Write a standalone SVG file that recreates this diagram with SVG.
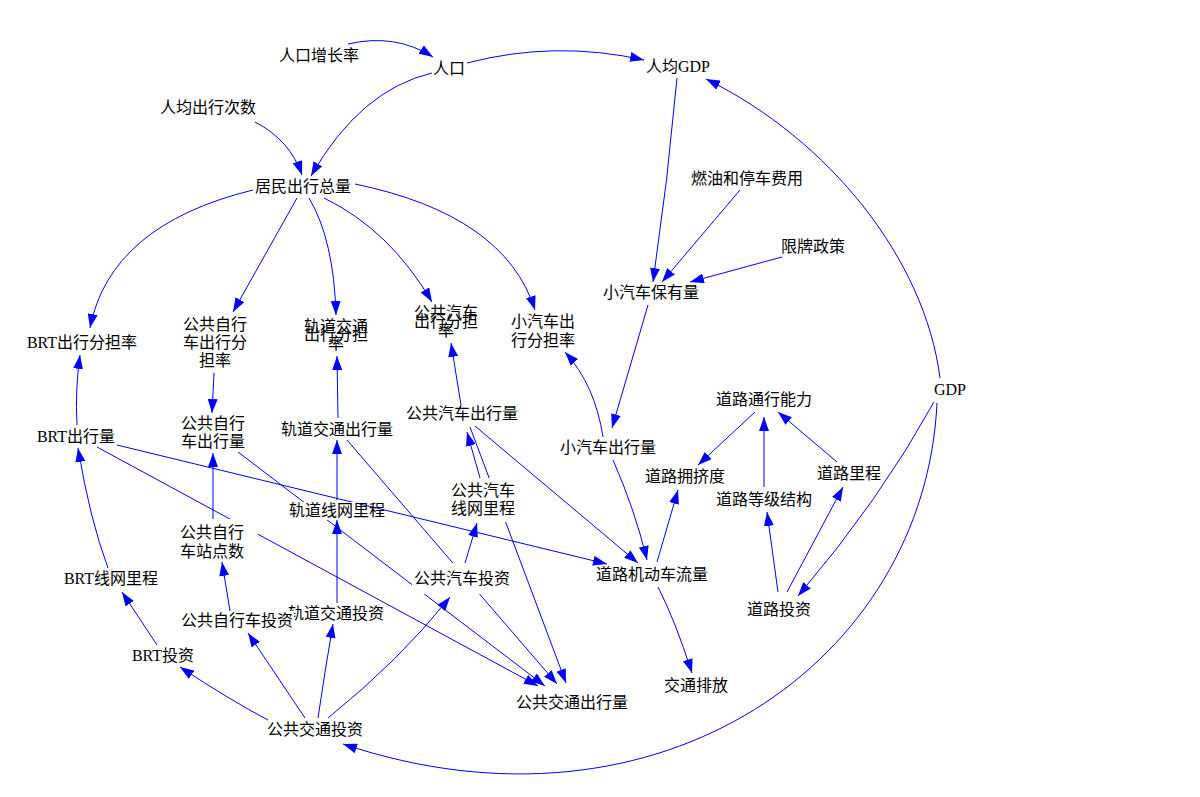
<svg xmlns="http://www.w3.org/2000/svg" width="1200" height="797" viewBox="0 0 1200 797">
<style>
text{font-family:"Liberation Serif","Noto Sans CJK SC",serif;font-size:16px;fill:#000;text-anchor:middle}
.c{fill:none;stroke:#0000ff;stroke-width:1;marker-end:url(#a)}
.bg{fill:#fff}
</style>
<defs>
<marker id="a" markerUnits="userSpaceOnUse" markerWidth="14" markerHeight="10" refX="14" refY="5" orient="auto"><path d="M0,0 L14,5 L0,10 z" fill="#0000ff"/></marker>
</defs>
<rect width="1200" height="797" fill="#fff"/>
<g id="connectors">
<path class="c" d="M348,44 Q395,33 433,57"/>
<path class="c" d="M467,63 Q555,40 644,60"/>
<path class="c" d="M432,73 Q360,90 311,176"/>
<path class="c" d="M255,122 Q290,140 302,175"/>
<path class="c" d="M677,78 Q668,180 653,282"/>
<path class="c" d="M740,190 L662,282"/>
<path class="c" d="M782,257 L690,282"/>
<path class="c" d="M940,378 C925,260 830,140 706,79"/>
<path class="c" d="M934,402 Q880,500 798,596"/>
<path class="c" d="M937,403 C925,660 660,850 343,744"/>
<path class="c" d="M253,190 Q110,225 90,328"/>
<path class="c" d="M297,198 L233,312"/>
<path class="c" d="M309,198 Q334,240 336,315"/>
<path class="c" d="M324,198 Q390,230 432,302"/>
<path class="c" d="M355,184 Q505,215 535,310"/>
<path class="c" d="M77,425 Q75,390 80,355"/>
<path class="c" d="M214,373 L212,413"/>
<path class="c" d="M338,418 L337,356"/>
<path class="c" d="M461,405 L451,343"/>
<path class="c" d="M603,437 Q595,385 565,352"/>
<path class="c" d="M648,305 L612,428"/>
<path class="c" d="M613,460 Q635,510 647,560"/>
<path class="c" d="M475,426 L638,563"/>
<path class="c" d="M117,445 L607,564"/>
<path class="c" d="M97,447 L538,686"/>
<path class="c" d="M238,452 L545,686"/>
<path class="c" d="M347,440 L557,684"/>
<path class="c" d="M470,427 L566,683"/>
<path class="c" d="M480,478 L467,432"/>
<path class="c" d="M465,563 L477,523"/>
<path class="c" d="M328,718 Q400,660 450,597"/>
<path class="c" d="M337,603 L337,520"/>
<path class="c" d="M337,500 L337,440"/>
<path class="c" d="M213,522 L213,453"/>
<path class="c" d="M230,611 L222,562"/>
<path class="c" d="M108,568 Q90,520 78,448"/>
<path class="c" d="M157,645 L122,592"/>
<path class="c" d="M268,720 Q230,700 180,667"/>
<path class="c" d="M305,718 L248,633"/>
<path class="c" d="M318,718 Q325,670 333,624"/>
<path class="c" d="M755,412 L698,465"/>
<path class="c" d="M764,487 L764,417"/>
<path class="c" d="M837,462 L778,412"/>
<path class="c" d="M778,592 L767,512"/>
<path class="c" d="M787,592 L843,487"/>
<path class="c" d="M657,562 L678,490"/>
<path class="c" d="M658,587 Q675,620 692,673"/>
</g>
<g id="n_pop_rate"><text x="319" y="61">人口增长率</text></g>
<g id="n_pop"><text x="449" y="74">人口</text></g>
<g id="n_gdp_pc"><text x="678" y="72">人均GDP</text></g>
<g id="n_trips_pc"><text x="208" y="113">人均出行次数</text></g>
<g id="n_total_trips"><text x="303" y="192">居民出行总量</text></g>
<g id="n_fuel"><text x="747" y="184">燃油和停车费用</text></g>
<g id="n_plate"><text x="813" y="252">限牌政策</text></g>
<g id="n_car_own"><text x="651" y="298">小汽车保有量</text></g>
<g id="n_brt_share"><text x="82" y="348">BRT出行分担率</text></g>
<g id="n_bike_share"><text x="215" y="330">公共自行</text><text x="215" y="348">车出行分</text><text x="215" y="366">担率</text></g>
<g id="n_rail_share"><text x="336" y="332">轨道交通</text><text x="336" y="340">出行分担</text><text x="336" y="349">率</text></g>
<g id="n_bus_share"><text x="446" y="318">公共汽车</text><text x="446" y="327">出行分担</text><text x="446" y="336">率</text></g>
<g id="n_car_share"><text x="543" y="327">小汽车出</text><text x="543" y="346">行分担率</text></g>
<g id="n_bike_trips"><text x="213" y="429">公共自行</text><text x="213" y="447">车出行量</text></g>
<g id="n_rail_trips"><text x="337" y="435">轨道交通出行量</text></g>
<g id="n_bus_trips"><text x="462" y="419">公共汽车出行量</text></g>
<g id="n_car_trips"><text x="608" y="453">小汽车出行量</text></g>
<g id="n_brt_trips"><text x="76" y="442">BRT出行量</text></g>
<g id="n_road_cap"><text x="764" y="405">道路通行能力</text></g>
<g id="n_congestion"><text x="685" y="482">道路拥挤度</text></g>
<g id="n_road_len"><text x="849" y="479">道路里程</text></g>
<g id="n_road_grade"><text x="764" y="505">道路等级结构</text></g>
<g id="n_gdp"><text x="950" y="395">GDP</text></g>
<g id="n_bus_net"><rect class="bg" x="450" y="478" width="68" height="44"/><text x="483" y="496">公共汽车</text><text x="483" y="514">线网里程</text></g>
<g id="n_rail_net"><rect class="bg" x="286" y="502" width="70" height="18"/><text x="337" y="516">轨道线网里程</text></g>
<g id="n_bike_stations"><rect class="bg" x="178" y="519" width="80" height="42"/><text x="212" y="538">公共自行</text><text x="212" y="557">车站点数</text></g>
<g id="n_vehicle_flow"><text x="652" y="580">道路机动车流量</text></g>
<g id="n_bus_inv"><rect class="bg" x="412" y="563" width="100" height="31"/><text x="462" y="584">公共汽车投资</text></g>
<g id="n_brt_net"><text x="111" y="584">BRT线网里程</text></g>
<g id="n_rail_inv"><text x="336" y="619">轨道交通投资</text></g>
<g id="n_bike_inv"><rect class="bg" x="180" y="611" width="114" height="18"/><text x="237" y="626">公共自行车投资</text></g>
<g id="n_brt_inv"><text x="163" y="661">BRT投资</text></g>
<g id="n_road_inv"><text x="779" y="615">道路投资</text></g>
<g id="n_emission"><text x="696" y="691">交通排放</text></g>
<g id="n_pt_trips"><text x="572" y="708">公共交通出行量</text></g>
<g id="n_pt_inv"><text x="315" y="735">公共交通投资</text></g>
</svg>
